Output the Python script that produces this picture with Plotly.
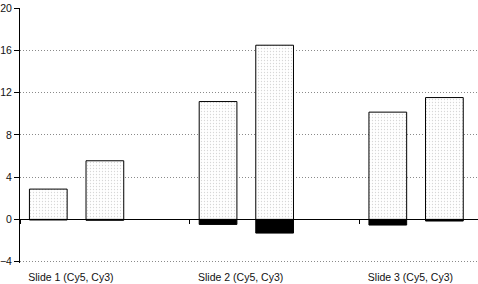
import plotly.graph_objects as go

categories = ["Slide 1 (Cy5, Cy3)", "Slide 2 (Cy5, Cy3)", "Slide 3 (Cy5, Cy3)"]
cy5_pos = [2.87, 11.15, 10.15]
cy5_neg = [-0.05, -0.47, -0.53]
cy3_pos = [5.55, 16.48, 11.53]
cy3_neg = [-0.08, -1.29, -0.15]
empty_series = [0, 0, 0]
y_ticks = [-4, 0, 4, 8, 12, 16, 20]

pattern = dict(shape=".", fgcolor="#b0b0b0", bgcolor="white", size=3, solidity=0.15)
outline = dict(color="black", width=1)

fig = go.Figure()
fig.add_trace(go.Bar(x=categories, y=cy5_pos, offsetgroup="cy5", name="Cy5",
                     marker=dict(color="white", pattern=pattern, line=outline)))
fig.add_trace(go.Bar(x=categories, y=cy5_neg, offsetgroup="cy5", name="Cy5 neg",
                     marker=dict(color="black", line=outline)))
fig.add_trace(go.Bar(x=categories, y=cy3_pos, offsetgroup="cy3", name="Cy3",
                     marker=dict(color="white", pattern=pattern, line=outline)))
fig.add_trace(go.Bar(x=categories, y=cy3_neg, offsetgroup="cy3", name="Cy3 neg",
                     marker=dict(color="black", line=outline)))
fig.add_trace(go.Bar(x=categories, y=empty_series, offsetgroup="empty", name="empty",
                     marker=dict(color="rgba(0,0,0,0)", line=dict(width=0))))
# invisible helper trace for the zero-line axis with category ticks
fig.add_trace(go.Scatter(x=categories, y=[None] * 3, xaxis="x2", mode="markers",
                         showlegend=False, hoverinfo="skip"))

font = dict(family="Liberation Sans, Arial, sans-serif", size=10.5, color="#111")

y_range = [-4.12, 20]

fig.update_layout(
    width=478, height=284,
    margin=dict(l=18, r=0, t=8, b=21),
    paper_bgcolor="white", plot_bgcolor="white",
    barmode="group", bargap=0, bargroupgap=1/3,
    showlegend=False,
    font=font,
    xaxis=dict(type="category", categoryarray=categories, range=[-0.5, 2.198],
               showgrid=False, showline=False, zeroline=False, ticks="",
               tickfont=font, ticklabelshift=-34, ticklabelstandoff=6),
    xaxis2=dict(type="category", categoryarray=categories, matches="x", overlaying="x",
                anchor="free", position=(0 - y_range[0]) / (y_range[1] - y_range[0]),
                showticklabels=False, showgrid=False,
                showline=True, linecolor="black", linewidth=1,
                ticks="outside", tickson="boundaries", ticklen=4, tickcolor="black"),
    yaxis=dict(range=y_range, tickvals=y_ticks, showgrid=True, gridcolor="#8a8a8a",
               griddash="1px,2px", gridwidth=1, zeroline=False, showline=True,
               linecolor="black", linewidth=1, ticks="outside", ticklen=5,
               tickcolor="black", tickfont=font),
)

fig.write_html("out.html")
